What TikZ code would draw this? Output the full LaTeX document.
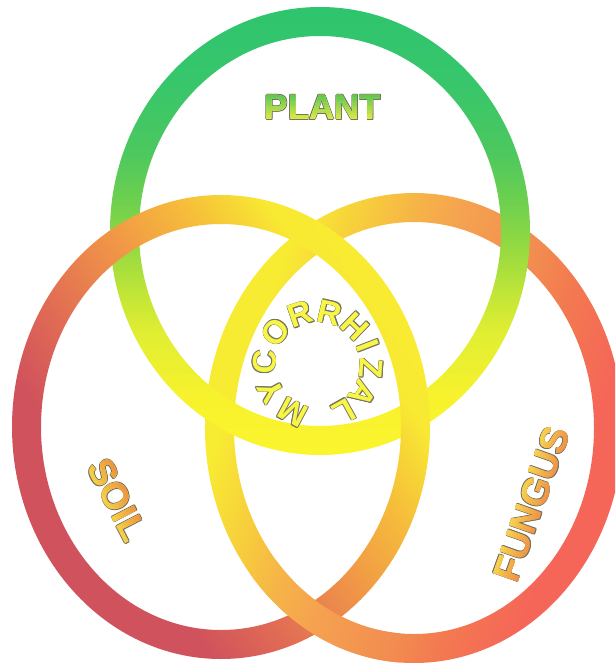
\documentclass[tikz,border=0pt]{standalone}
\usepackage{fontspec}
\setmainfont{Liberation Sans}
\definecolor{pY}{RGB}{250,245,45}
\definecolor{pY2}{RGB}{248,242,45}
\definecolor{pL1}{RGB}{225,238,50}
\definecolor{pL2}{RGB}{195,230,55}
\definecolor{pL3}{RGB}{150,218,65}
\definecolor{pG1}{RGB}{110,208,78}
\definecolor{pG2}{RGB}{75,200,95}
\definecolor{pG3}{RGB}{55,198,108}
\definecolor{pG4}{RGB}{45,196,110}
\definecolor{sR}{RGB}{208,82,92}
\definecolor{sR2}{RGB}{225,108,85}
\definecolor{sO}{RGB}{240,148,72}
\definecolor{sOY}{RGB}{246,190,58}
\definecolor{sY}{RGB}{248,234,50}
\definecolor{sY2}{RGB}{250,245,50}
\definecolor{fY}{RGB}{248,236,50}
\definecolor{fOY}{RGB}{247,200,62}
\definecolor{fO}{RGB}{246,178,72}
\definecolor{fO2}{RGB}{245,162,80}
\definecolor{fO3}{RGB}{242,140,80}
\definecolor{fR}{RGB}{243,122,80}
\definecolor{fR2}{RGB}{245,102,88}
\definecolor{fR3}{RGB}{242,98,90}
\definecolor{pGt}{RGB}{80,195,85}
\definecolor{pYt}{RGB}{235,238,70}
\definecolor{sTop}{RGB}{236,140,62}
\definecolor{sBot}{RGB}{246,212,70}
\definecolor{fTop}{RGB}{246,214,80}
\definecolor{fBot}{RGB}{238,140,70}
\definecolor{myY}{RGB}{248,245,70}
\definecolor{olgray}{RGB}{115,115,95}
\pgfdeclareverticalshading{plantshade}{100bp}{color(0bp)=(pY); color(26bp)=(pY); color(32bp)=(pY2); color(39bp)=(pL1); color(43bp)=(pL2); color(48bp)=(pL3); color(53bp)=(pG1); color(58.5bp)=(pG2); color(66bp)=(pG3); color(75bp)=(pG4); color(100bp)=(pG4)}
\pgfdeclarehorizontalshading{soilshade}{100bp}{color(0bp)=(sR); color(40bp)=(sR); color(45bp)=(sR2); color(51bp)=(sO); color(57bp)=(sOY); color(62bp)=(sY); color(100bp)=(sY2)}
\pgfdeclarehorizontalshading{fungshade}{100bp}{color(0bp)=(fY); color(37bp)=(fY); color(42bp)=(fOY); color(45bp)=(fO); color(48bp)=(fO2); color(54bp)=(fO3); color(57bp)=(fR); color(62bp)=(fR2); color(100bp)=(fR3)}
\tikzset{
  wordnode/.style={inner sep=0pt, outer sep=0pt, anchor=base, transform shape},
  myclet/.style={inner sep=0pt, outer sep=0pt, anchor=base, transform shape, font=\fontsize{33}{36}\selectfont\bfseries}
}
% #1 name, #2 font, #3 text, #4 half cap height, #5 bottom colour, #6 top colour, #7 outline colour
\newcommand\GradWord[7]{%
  \foreach \dx/\dy [count=\k] in {0.8/0,-0.8/0,0/0.8,0/-0.8,0.57/0.57,-0.57/0.57,0.57/-0.57,-0.57/-0.57}{%
    \node[wordnode, font=#2, text=#7] (#1o\k) at (\dx pt,\dy pt-#4 pt) {#3};
  }%
  \foreach \i in {0,...,11}{%
    \pgfmathsetmacro\yy{-#4-3+(2*#4+6)*\i/12}%
    \pgfmathtruncatemacro\pp{100*\i/11}%
    \begin{scope}
      \clip (-400pt,\yy pt) rectangle (400pt,400pt);
      \node[wordnode, font=#2, text=#6!\pp!#5] (#1f\i) at (0pt,-#4 pt) {#3};
    \end{scope}
  }%
}
% #1 name, #2 letter
\newcommand\OutLetter[2]{%
  \foreach \dx/\dy [count=\k] in {0.75/0,-0.75/0,0/0.75,0/-0.75,0.53/0.53,-0.53/0.53,0.53/-0.53,-0.53/-0.53}{%
    \node[myclet, text=olgray] (#1o\k) at (\dx pt,\dy pt-11.8pt) {#2};
  }%
  \node[myclet, text=myY] (#1) at (0pt,-11.8pt) {#2};
}
\newcommand\FungusRing{%
  \clip (414,428) ellipse [x radius=209pt, y radius=235pt] (414,428) ellipse [x radius=180pt, y radius=206pt];
  \shade[shading=fungshade, transform canvas={rotate around={-20:(414,428)}}] (64,78) rectangle (764,778);
}
\begin{document}
\begin{tikzpicture}[x=1pt,y=-1pt]
\path[use as bounding box] (0,0) rectangle (615,663);
\clip (0,0) rectangle (615,663);
\fill[white] (0,0) rectangle (615,663);
% right ring (fungus)
\begin{scope}[even odd rule]
  \FungusRing
\end{scope}
% top ring (plant)
\begin{scope}[even odd rule]
  \clip (320,231) ellipse [x radius=210pt, y radius=224pt] (320,231) ellipse [x radius=181pt, y radius=195pt];
  \shade[shading=plantshade] (100,-5) rectangle (540,465);
\end{scope}
% left ring (soil)
\begin{scope}[even odd rule]
  \clip (221,427) ellipse [x radius=209pt, y radius=232pt] (221,427) ellipse [x radius=180pt, y radius=203pt];
  \shade[shading=soilshade, transform canvas={rotate around={35:(221,427)}}] (-129,77) rectangle (571,777);
\end{scope}
% right ring passes over the left ring at the bottom crossing
\begin{scope}[even odd rule]
  \clip (250,560) rectangle (400,663);
  \FungusRing
\end{scope}
% labels
\begin{scope}[shift={(323,107)}]
  \GradWord{plant}{\fontsize{35}{40}\selectfont\bfseries}{PLANT}{12.5}{pYt}{pGt}{olgray}
\end{scope}
\begin{scope}[shift={(118,500)}, rotate=-62.7]
  \GradWord{soil}{\fontsize{37}{42}\selectfont\bfseries}{SOIL}{13.2}{sBot}{sTop}{olgray}
\end{scope}
\begin{scope}[shift={(531,504)}, rotate=70.5]
  \GradWord{fungus}{\fontsize{38}{43}\selectfont\bfseries}{FUNGUS}{13.6}{fBot}{fTop}{olgray}
\end{scope}
\foreach \L/\a [count=\n] in {M/242,Y/209,C/177,O/142,R/109,R/77,H/46,I/21,Z/-4,A/-33,L/-61}{
  \begin{scope}[shift={(318,365)}, rotate=\a-90, shift={(0pt,54pt)}]
    \OutLetter{my\n}{\L}
  \end{scope}
}
\end{tikzpicture}
\end{document}
